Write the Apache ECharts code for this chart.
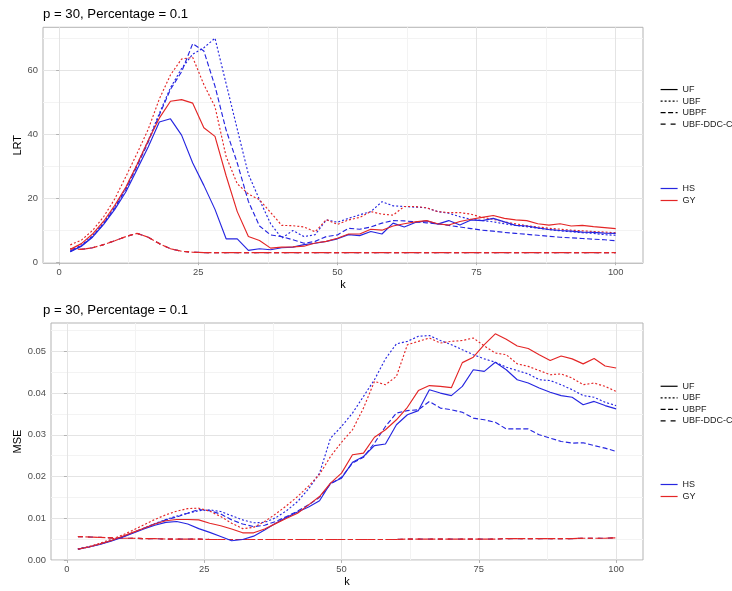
<!DOCTYPE html>
<html><head><meta charset="utf-8">
<script src="https://cdn.jsdelivr.net/npm/echarts@6/dist/echarts.min.js"></script>
<style>html,body{margin:0;padding:0;background:#fff}#c{width:732px;height:591px}</style>
</head><body><div id="c"></div><script>
// ---------- data ----------
const kValues = [2,4,6,8,10,12,14,16,18,20,22,24,26,28,30,32,34,36,38,40,42,44,46,48,50,
  52,54,56,58,60,62,64,66,68,70,72,74,76,78,80,82,84,86,88,90,92,94,96,98,100];

const methods = ['UF','UBF','UBPF','UBF-DDC-C'];
const groups = ['HS','GY'];
const xTicks = [0,25,50,75,100];
const xMinor = [12.5,37.5,62.5,87.5];
const lrtTicks = [0,20,40,60];
const lrtMinor = [10,30,50,70];
const mseTicks = [0,0.01,0.02,0.03,0.04,0.05];
const mseMinor = [0.005,0.015,0.025,0.035,0.045,0.055];
const panelTitle = 'p = 30, Percentage = 0.1';

// LRT panel
const lrtHS_UF = [3.3,5.0,7.8,11.8,16.5,22.0,29.0,36.0,43.8,44.8,39.7,31.0,24.0,16.5,7.3,7.3,3.7,4.2,3.9,4.5,
  4.7,5.5,5.9,6.5,7.3,8.6,8.3,9.6,8.8,12.2,11.0,12.4,12.9,11.9,13.0,11.6,13.2,13.0,13.7,12.6,
  11.5,11.3,10.7,10.2,9.9,9.7,9.4,9.3,9.1,9.0];
const lrtGY_UF = [4.0,5.8,8.8,12.8,17.8,23.5,30.5,38.0,45.0,50.3,50.8,49.7,42.0,39.3,27.0,15.8,8.0,6.8,4.4,4.7,
  4.8,5.0,6.0,6.5,7.5,8.8,8.8,10.3,10.0,11.3,12.0,12.6,13.0,12.0,11.6,12.7,13.4,14.0,14.6,13.7,
  13.2,13.0,12.0,11.6,12.0,11.3,11.5,11.1,10.8,10.5];
const lrtHS_UBF = [3.5,5.3,8.3,12.3,17.3,23.2,30.5,38.0,46.5,54.5,60.5,65.0,67.0,70.0,55.8,41.6,27.5,19.5,12.0,7.5,
  9.9,8.0,8.6,13.2,12.5,13.7,14.8,15.8,18.9,17.6,17.4,17.2,17.0,15.8,15.3,14.2,13.4,13.0,12.6,12.0,
  11.5,11.1,10.6,10.2,9.8,9.5,9.2,9.0,8.6,8.4];
const lrtGY_UBF = [5.4,6.9,9.9,14.2,19.8,26.8,34.0,41.5,51.0,58.5,63.5,64.0,55.5,48.6,33.0,24.5,21.3,19.5,15.5,11.5,
  11.4,11.0,9.5,13.3,11.8,13.2,14.0,15.8,15.0,14.7,17.4,17.4,17.0,15.8,15.5,15.5,15.0,14.0,13.4,12.6,
  12.0,11.4,11.0,10.6,10.3,10.0,9.8,9.6,9.4,9.2];
const lrtHS_UBPF = [3.3,5.1,8.0,12.0,17.0,22.8,30.0,37.5,46.0,54.0,59.5,68.3,66.0,55.0,41.3,31.0,19.0,11.3,8.5,8.0,
  7.0,5.9,6.5,8.0,8.5,10.6,10.3,11.0,12.2,13.0,12.9,12.6,12.3,12.0,11.5,11.0,10.5,10.0,9.7,9.3,
  9.0,8.7,8.4,8.1,7.8,7.6,7.4,7.2,7.0,6.7];
const lrtFlat = [4.2,4.0,4.5,5.5,6.7,8.0,9.0,7.8,5.8,4.2,3.4,3.1,3.0,3.0,3.0,3.0,3.0,3.0,3.0,3.0,
  3.0,3.0,3.0,3.0,3.0,3.0,3.0,3.0,3.0,3.0,3.0,3.0,3.0,3.0,3.0,3.0,3.0,3.0,3.0,3.0,
  3.0,3.0,3.0,3.0,3.0,3.0,3.0,3.0,3.0,3.0];

// MSE panel
const mseHS_UF = [.0026,.0031,.0037,.0045,.0054,.0064,.0074,.0083,.0090,.0092,.0086,.0075,.0066,.0056,.0046,.0049,.0057,.0072,.0088,.0102,
  .0115,.0127,.0142,.0184,.0196,.0234,.0248,.0274,.0278,.0324,.0348,.0358,.0408,.0400,.0394,.0416,.0456,.0452,.0474,.0456,
  .0432,.0424,.0412,.0402,.0394,.0390,.0372,.0380,.0370,.0362];
const mseGY_UF = [.0026,.0031,.0038,.0046,.0056,.0066,.0076,.0086,.0094,.0097,.0097,.0096,.0088,.0082,.0074,.0065,.0065,.0074,.0087,.0100,
  .0112,.0132,.0152,.0184,.0208,.0252,.0256,.0294,.0312,.0336,.0366,.0406,.0418,.0416,.0413,.0473,.0486,.0516,.0542,.0529,
  .0513,.0507,.0492,.0478,.0489,.0482,.0470,.0483,.0465,.0460];
const mseHS_UBF = [.0026,.0031,.0038,.0046,.0055,.0065,.0076,.0087,.0097,.0105,.0112,.0118,.0120,.0116,.0106,.0096,.0089,.0090,.0101,.0118,
  .0140,.0170,.0208,.0292,.0320,.0352,.0392,.0432,.0482,.0518,.0524,.0536,.0538,.0526,.0516,.0504,.0492,.0482,.0474,.0462,
  .0454,.0446,.0432,.0430,.0420,.0408,.0394,.0390,.0378,.0370];
const mseGY_UBF = [.0026,.0032,.0040,.0049,.0059,.0071,.0084,.0097,.0108,.0117,.0123,.0124,.0117,.0104,.0088,.0075,.0078,.0092,.0110,.0130,
  .0152,.0177,.0205,.0248,.0282,.0312,.0364,.0428,.0420,.0440,.0516,.0524,.0532,.0520,.0524,.0526,.0532,.0513,.0496,.0492,
  .0470,.0464,.0454,.0444,.0446,.0436,.0420,.0424,.0416,.0404];
const mseHS_UBPF = [.0026,.0031,.0038,.0046,.0055,.0065,.0076,.0086,.0096,.0103,.0112,.0121,.0118,.0110,.0096,.0086,.0080,.0083,.0092,.0104,
  .0117,.0132,.0150,.0182,.0198,.0232,.0246,.0280,.0320,.0352,.0358,.0360,.0380,.0364,.0360,.0354,.0340,.0336,.0330,.0314,
  .0314,.0314,.0300,.0292,.0284,.0280,.0281,.0274,.0268,.0260];
const mseFlat = [.0056,.0055,.0054,.0053,.0052,.0052,.0051,.0051,.0050,.0050,.0050,.0050,.0049,.0049,.0049,.0049,.0049,.0049,.0049,.0049,
  .0049,.0049,.0049,.0049,.0049,.0049,.0049,.0049,.0049,.0049,.0050,.0050,.0050,.0050,.0050,.0050,.0050,.0050,.0050,.0051,
  .0051,.0051,.0051,.0051,.0051,.0051,.0052,.0052,.0052,.0053];

// ---------- styling ----------
const FONT = '"Liberation Sans", Arial, Helvetica, sans-serif';
const BLUE = '#2626e0', RED = '#e42626';
const DASH = {'UF':'solid','UBF':[2,2],'UBPF':[5,2.5],'UBF-DDC-C':[5,5]};
const LW = 1.15;
const NOSYM = 'rgba(0,0,0,0)';

function mainAxis(gridIndex, min, max, ticks, fmt, name, nameGap) {
  return {
    type:'value', gridIndex, min, max,
    axisLine:{show:false},
    axisTick:{show:true, length:3, customValues:ticks, lineStyle:{color:'#b3b3b3', width:1}},
    axisLabel:{customValues:ticks, formatter:fmt, color:'#4d4d4d', fontSize:9.4, margin:5, fontFamily:FONT},
    splitLine:{show:true, lineStyle:{color:'#e4e4e4', width:1}},
    name, nameLocation:'middle', nameGap, nameMoveOverlap:false,
    nameTextStyle:{color:'#000', fontSize:11, fontFamily:FONT}
  };
}
function minorAxis(gridIndex, min, max, ticks) {
  return {
    type:'value', gridIndex, min, max,
    axisLine:{show:false},
    axisTick:{show:false, customValues:ticks},
    axisLabel:{show:false, customValues:ticks},
    splitLine:{show:true, lineStyle:{color:'#f3f3f3', width:1}}
  };
}
function line(xi, values, color, method, z) {
  return {
    type:'line', xAxisIndex:xi, yAxisIndex:xi, symbol:'none', silent:true, z,
    data: kValues.map((k,i)=>[k, values[i]]),
    lineStyle:{color, width:LW, type:DASH[method]}
  };
}
function panelSeries(xi, d) {
  return [
    line(xi, d.flat, BLUE, 'UBF-DDC-C', 2),
    line(xi, d.flat, RED, 'UBPF', 2),
    line(xi, d.flat, RED, 'UBF-DDC-C', 2),
    line(xi, d.hsUBPF, BLUE, 'UBPF', 3),
    line(xi, d.hsUBF, BLUE, 'UBF', 3),
    line(xi, d.gyUBF, RED, 'UBF', 3),
    line(xi, d.hsUF, BLUE, 'UF', 4),
    line(xi, d.gyUF, RED, 'UF', 4)
  ];
}
const legendSeries = methods.map(m => ({
  name:m, type:'line', xAxisIndex:0, yAxisIndex:0, data:[], symbol:'none',
  lineStyle:{color:'#000', width:LW, type:DASH[m]}, itemStyle:{color:NOSYM, borderColor:NOSYM}
})).concat(groups.map((g,i) => ({
  name:g, type:'line', xAxisIndex:0, yAxisIndex:0, data:[], symbol:'none',
  lineStyle:{color:i===0?BLUE:RED, width:LW, type:'solid'}, itemStyle:{color:NOSYM, borderColor:NOSYM}
})));

function legend(data, top, h) {
  return {data, orient:'vertical', left:660, top, itemWidth:17, itemHeight:h, itemGap:0,
    selectedMode:false, padding:0,
    itemStyle:{color:NOSYM, borderColor:NOSYM, opacity:0},
    lineStyle:{width:1.2},
    textStyle:{fontSize:9, color:'#1a1a1a', fontFamily:FONT}};
}

const gridBase = {show:true, borderColor:'#b3b3b3', borderWidth:1, backgroundColor:'#fff', containLabel:false};
const option = {
  animation:false,
  backgroundColor:'#fff',
  title:[
    {text:panelTitle, left:43, top:8, padding:0, textStyle:{fontSize:13.2, fontWeight:'normal', color:'#000', fontFamily:FONT}},
    {text:panelTitle, left:43, top:303.5, padding:0, textStyle:{fontSize:13.2, fontWeight:'normal', color:'#000', fontFamily:FONT}}
  ],
  grid:[
    Object.assign({left:43, top:27.3, width:600, height:236}, gridBase),
    Object.assign({left:51, top:323, width:592, height:237}, gridBase)
  ],
  xAxis:[
    mainAxis(0, -2.9, 104.9, xTicks, v=>String(v), 'k', 16),
    mainAxis(1, -2.9, 104.9, xTicks, v=>String(v), 'k', 16),
    minorAxis(0, -2.9, 104.9, xMinor),
    minorAxis(1, -2.9, 104.9, xMinor)
  ],
  yAxis:[
    mainAxis(0, -0.35, 73.4, lrtTicks, v=>String(v), 'LRT', 19.5),
    mainAxis(1, -0.00002, 0.0568, mseTicks, v=>v.toFixed(2), 'MSE', 27.5),
    minorAxis(0, -0.35, 73.4, lrtMinor),
    minorAxis(1, -0.00002, 0.0568, mseMinor)
  ],
  legend:[
    legend(methods, 83.8, 14.4),
    legend(groups, 182.5, 15),
    legend(methods, 380.5, 14.4),
    legend(groups, 478.5, 15)
  ],
  series: legendSeries
    .concat(panelSeries(0, {flat:lrtFlat, hsUBPF:lrtHS_UBPF, hsUBF:lrtHS_UBF, gyUBF:lrtGY_UBF, hsUF:lrtHS_UF, gyUF:lrtGY_UF}))
    .concat(panelSeries(1, {flat:mseFlat, hsUBPF:mseHS_UBPF, hsUBF:mseHS_UBF, gyUBF:mseGY_UBF, hsUF:mseHS_UF, gyUF:mseGY_UF}))
};
const chart = echarts.init(document.getElementById('c'), null, {renderer:'canvas'});
chart.setOption(option);
</script></body></html>
